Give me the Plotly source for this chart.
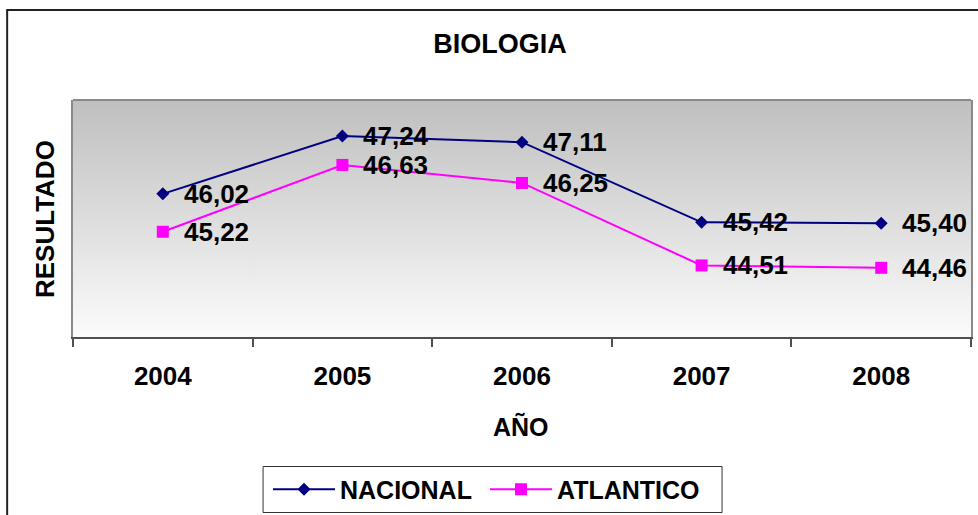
import plotly.graph_objects as go

# ---- data ----
years = ["2004", "2005", "2006", "2007", "2008"]
nacional = [46.02, 47.24, 47.11, 45.42, 45.40]
atlantico = [45.22, 46.63, 46.25, 44.51, 44.46]
series_names = ["NACIONAL", "ATLANTICO"]
chart_title = "BIOLOGIA"
x_title = "AÑO"
y_title = "RESULTADO"
y_range = [43, 48]

W, H = 978, 515
ML, MR, MT, MB = 73, 5, 100, 178
FONT = "Liberation Sans, Arial, sans-serif"
pw = W - ML - MR
ph = H - MT - MB


def px_x(px):
    return (px - ML) / pw


def px_y(py):
    return (H - MB - py) / ph


xs = list(range(len(years)))
x_range = [-0.5, len(years) - 0.5]

fig = go.Figure()

# gradient plot-area background
fig.add_trace(go.Scatter(
    x=[x_range[0], x_range[1], x_range[1], x_range[0], x_range[0]],
    y=[y_range[0], y_range[0], y_range[1], y_range[1], y_range[0]],
    mode="lines", line=dict(width=0), fill="toself",
    fillgradient=dict(type="vertical",
                      colorscale=[[0, "#fbfbfb"], [1, "#bfbfbf"]]),
    hoverinfo="skip", showlegend=False))

fig.add_trace(go.Scatter(
    x=xs, y=nacional, name=series_names[0], mode="lines+markers",
    line=dict(color="#000080", width=2),
    marker=dict(symbol="diamond", size=10, color="#000080")))
fig.add_trace(go.Scatter(
    x=xs, y=atlantico, name=series_names[1], mode="lines+markers",
    line=dict(color="#ff00ff", width=2),
    marker=dict(symbol="square", size=12, color="#ff00ff")))

annotations = []
for series in (nacional, atlantico):
    for xi, v in zip(xs, series):
        annotations.append(dict(
            x=xi, y=v, xref="x", yref="y",
            text=f"{v:.2f}".replace(".", ","), showarrow=False,
            xanchor="left", yanchor="middle", xshift=19,
            font=dict(family=FONT, size=26, color="black", weight="bold")))

annotations.append(dict(
    x=px_x(522), y=px_y(426), xref="paper", yref="paper",
    text=x_title, showarrow=False, xanchor="center", yanchor="middle",
    font=dict(family=FONT, size=25, color="black", weight="bold")))
annotations.append(dict(
    x=px_x(45), y=px_y(219), xref="paper", yref="paper",
    text=y_title, showarrow=False, textangle=-90,
    xanchor="center", yanchor="middle",
    font=dict(family=FONT, size=26, color="black", weight="bold")))

shapes = [
    # outer chart border (left and top visible)
    dict(type="rect", xref="paper", yref="paper",
         x0=px_x(7), x1=px_x(W + 20), y0=px_y(H + 20), y1=px_y(10),
         line=dict(color="#222222", width=2), fillcolor="rgba(0,0,0,0)",
         layer="above"),
    # plot-area top border
    dict(type="line", xref="paper", yref="paper", x0=0, x1=1, y0=1, y1=1,
         line=dict(color="#8a8a8a", width=2), layer="above"),
    # legend frame
    dict(type="rect", xref="paper", yref="paper",
         x0=px_x(263.5), x1=px_x(723.5), y0=px_y(512.5), y1=px_y(466.5),
         line=dict(color="#333333", width=1), fillcolor="rgba(0,0,0,0)",
         layer="above"),
]

fig.update_layout(
    width=W, height=H,
    margin=dict(l=ML, r=MR, t=MT, b=MB, pad=0),
    paper_bgcolor="white", plot_bgcolor="white",
    font=dict(family=FONT, color="black"),
    title=dict(text=chart_title, x=500 / W, xref="container", xanchor="center",
               y=1 - 43.5 / H, yref="container", yanchor="middle",
               font=dict(family=FONT, size=27, color="black", weight="bold")),
    xaxis=dict(range=x_range, tickmode="array", tickvals=xs, ticktext=years,
               ticks="", showgrid=False, zeroline=False,
               showline=True, linecolor="#505050", linewidth=2,
               ticklabelstandoff=15,
               tickfont=dict(family=FONT, size=26, color="black", weight="bold"),
               minor=dict(tickmode="array",
                          tickvals=[x - 0.5 for x in range(len(years) + 1)],
                          ticks="outside", ticklen=8, tickwidth=2,
                          tickcolor="#505050", showgrid=False),
               fixedrange=True),
    yaxis=dict(range=y_range, showticklabels=False, ticks="", showgrid=False,
               zeroline=False, showline=True, mirror=True,
               linecolor="#8a8a8a", linewidth=2, fixedrange=True),
    showlegend=True,
    legend=dict(orientation="h", xref="container", yref="container",
                x=268 / W, xanchor="left", y=1 - 489.5 / H, yanchor="middle",
                borderwidth=0, bgcolor="rgba(0,0,0,0)",
                itemwidth=62, entrywidth=140, entrywidthmode="pixels",
                font=dict(family=FONT, size=25, color="black", weight="bold")),
    annotations=annotations,
    shapes=shapes,
)

fig.write_html(
    "out.html",
    config={"displayModeBar": False},
    post_script="document.body.style.margin='0';"
                "document.body.style.overflow='hidden';",
)
